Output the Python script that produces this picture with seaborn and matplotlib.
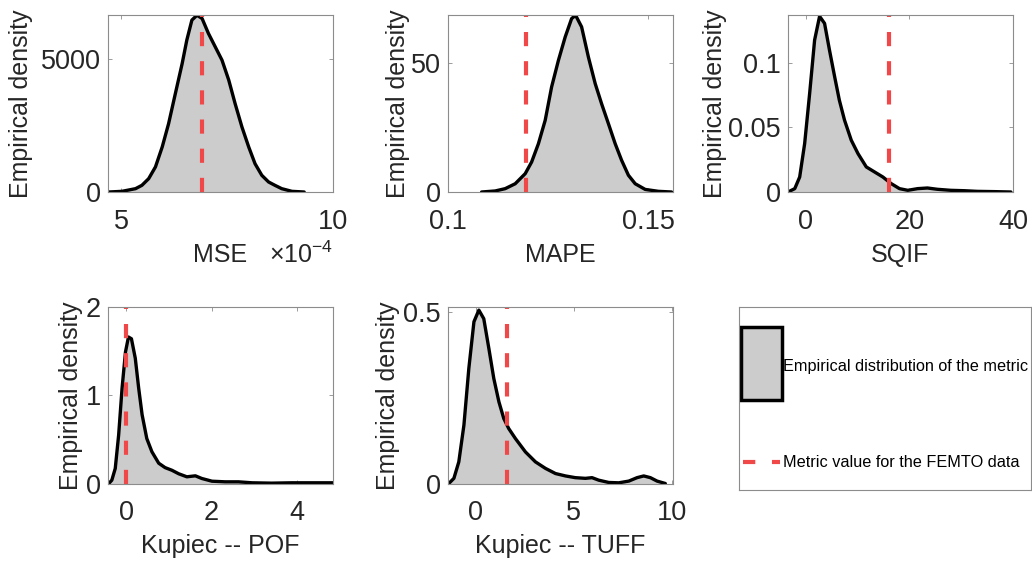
import numpy as np
import matplotlib
matplotlib.use("Agg")
import matplotlib.pyplot as plt
import seaborn as sns
from matplotlib.patches import Rectangle

# densities
mse_x = np.array([4.71, 5.02, 5.34, 5.49, 5.65, 5.81, 5.97, 6.12, 6.28, 6.44, 6.55, 6.67, 6.79,
                  6.91, 7.06, 7.22, 7.38, 7.54, 7.69, 7.85, 8.01, 8.16, 8.32, 8.48, 8.63, 8.79,
                  9.03, 9.32]) * 1e-4
mse_y = [0, 25, 125, 250, 500, 940, 1690, 2560, 3690, 4810, 5690, 6440, 6620,
         6500, 5940, 5440, 4940, 4190, 3310, 2440, 1690, 1060, 625, 375, 250, 125,
         25, 0]
mse_value = 6.9e-4

mape_x = [0.1084, 0.1118, 0.1143, 0.1168, 0.1193, 0.1209, 0.1226, 0.1243, 0.1259, 0.1276,
          0.1293, 0.1309, 0.1319, 0.1334, 0.1351, 0.1368, 0.1384, 0.1401, 0.1418, 0.1434,
          0.1451, 0.1468, 0.1493, 0.1526, 0.1559]
mape_y = [0, 0.4, 1.3, 3.2, 7.1, 11.6, 18.7, 27.8, 40.7, 51.0,
          60.1, 67.2, 68.5, 64.0, 52.3, 42.0, 34.2, 26.5, 18.7, 12.3,
          6.5, 3.2, 1.0, 0.26, 0]
mape_value = 0.1195

sqif_x = [-3.4, -2.1, -1.15, -0.19, 0.77, 1.73, 2.69, 3.65, 4.6, 5.6, 6.5, 7.5, 8.8, 10.1,
          11.7, 13.3, 14.9, 16.5, 18.1, 19.7, 21.6, 23.5, 25.4, 28.0, 30.6, 33.1, 36.3, 39.6]
sqif_y = [0, 0.0026, 0.0116, 0.0375, 0.0762, 0.1176, 0.136, 0.1305, 0.1098, 0.0891, 0.0711,
          0.0556, 0.0401, 0.0297, 0.0194, 0.0155, 0.0116, 0.0065, 0.0026, 0.0013, 0.0026,
          0.0031, 0.0021, 0.0013, 0.001, 0.0005, 0.0003, 0]
sqif_value = 16.15

pof_x = [-0.41, -0.34, -0.26, -0.18, -0.10, -0.02, 0.05, 0.12, 0.21, 0.29, 0.37, 0.48, 0.60,
         0.76, 0.91, 1.07, 1.23, 1.42, 1.62, 1.77, 2.01, 2.32, 2.63, 2.95, 3.41, 3.88, 4.35, 4.86]
pof_y = [0, 0.038, 0.17, 0.55, 1.08, 1.49, 1.66, 1.64, 1.42, 1.08, 0.78, 0.51, 0.36,
         0.23, 0.18, 0.15, 0.11, 0.076, 0.087, 0.057, 0.026, 0.019, 0.019, 0.008, 0.004,
         0.008, 0.008, 0.008]
pof_value = 0.0

tuff_x = [-1.36, -1.10, -0.85, -0.59, -0.34, -0.08, 0.17, 0.42, 0.68, 0.93, 1.19, 1.44, 1.69,
          2.03, 2.54, 3.05, 3.56, 4.07, 4.58, 5.08, 5.59, 5.93, 6.27, 6.78, 7.29, 7.8, 8.22,
          8.56, 8.9, 9.24, 9.66]
tuff_y = [0, 0.015, 0.063, 0.17, 0.335, 0.471, 0.505, 0.48, 0.393, 0.306, 0.238, 0.189, 0.160,
          0.131, 0.092, 0.063, 0.044, 0.029, 0.022, 0.017, 0.015, 0.017, 0.0097, 0.003, 0.002,
          0.007, 0.017, 0.022, 0.017, 0.007, 0]
tuff_value = 1.61

legend_labels = ["Empirical distribution of the metric", "Metric value for the FEMTO data"]

FILL = "#cccccc"
RED = "#f04848"
AXC = "#8c8c8c"
TXT = "#262626"

sns.set_theme(style="ticks")
plt.rcParams["font.family"] = ["Liberation Sans", "DejaVu Sans"]
plt.rcParams["mathtext.fontset"] = "custom"
plt.rcParams["mathtext.rm"] = "Liberation Sans"

W, H = 1032, 565
fig = plt.figure(figsize=(W / 100, H / 100), dpi=100)


def px_axes(left, top, right, bottom):
    return fig.add_axes([left / W, 1 - bottom / H, (right - left) / W, (bottom - top) / H])


def density_panel(ax, x, y, value, label, xlim, ylim, xticks, yticks, ypad):
    ax.fill_between(x, y, 0, color=FILL, linewidth=0)
    sns.lineplot(x=x, y=y, color="black", linewidth=2.4, ax=ax)
    ax.axvline(value, color=RED, linewidth=3, linestyle=(0, (3.4, 3.6)))
    ax.set_xlim(*xlim)
    ax.set_ylim(*ylim)
    ax.set_xticks(xticks)
    ax.set_yticks(yticks)
    ax.set_xlabel(label, fontsize=18, color=TXT, labelpad=6)
    ax.set_ylabel("Empirical density", fontsize=18, color=TXT, labelpad=ypad)
    ax.tick_params(direction="in", length=3, width=0.6, color=AXC, labelcolor=TXT,
                   labelsize=19.5, top=True, right=True)
    ax.tick_params(axis="x", pad=12)
    ax.tick_params(axis="y", pad=5)
    for s in ax.spines.values():
        s.set_color(AXC)
        s.set_linewidth(0.8)


ax1 = px_axes(108, 15, 333, 192)
density_panel(ax1, mse_x, mse_y, mse_value, "MSE", (4.69e-4, 10e-4), (0, 6630),
              [5e-4, 10e-4], [0, 5000], 5.8)
ax1.set_xticklabels(["5", "10"])
fig.text(333 / W, 1 - 263 / H, r"$\times\mathregular{10^{-4}}$", ha="right", va="baseline",
         fontsize=18, color=TXT)

ax2 = px_axes(448, 15, 673, 192)
density_panel(ax2, mape_x, mape_y, mape_value, "MAPE", (0.1, 0.15625), (0, 68.6),
              [0.1, 0.15], [0, 50], 0.7)
ax2.set_xticklabels(["0.1", "0.15"])

ax3 = px_axes(787.5, 15, 1013, 192)
density_panel(ax3, sqif_x, sqif_y, sqif_value, "SQIF", (-3.5, 40), (0, 0.137),
              [0, 20, 40], [0, 0.05, 0.1], 0.7)
ax3.set_yticklabels(["0", "0.05", "0.1"])

ax4 = px_axes(108, 307, 333, 483.5)
density_panel(ax4, pof_x, pof_y, pof_value, "Kupiec -- POF", (-0.43, 4.85), (0, 2),
              [0, 2, 4], [0, 1, 2], 2.2)

ax5 = px_axes(448, 307, 673, 483.5)
density_panel(ax5, tuff_x, tuff_y, tuff_value, "Kupiec -- TUFF", (-1.4, 10.05), (0, 0.514),
              [0, 5, 10], [0, 0.5], 2.2)
ax5.set_yticklabels(["0", "0.5"])

# legend box in the sixth cell, drawn by hand like the MATLAB legend
axl = px_axes(739, 307, 1031, 490)
axl.set_xlim(0, 1)
axl.set_ylim(0, 1)
axl.set_xticks([])
axl.set_yticks([])
for s in axl.spines.values():
    s.set_color(AXC)
    s.set_linewidth(0.8)
axl.add_patch(Rectangle((0.0075, 0.492), 0.139, 0.399, facecolor=FILL, edgecolor="black",
                        linewidth=2.5, transform=axl.transAxes))
axl.plot([0.0127, 0.140], [0.153, 0.153], color=RED, linewidth=3,
         linestyle=(0, (2.95, 4.0)), transform=axl.transAxes)
axl.text(0.151, 0.676, legend_labels[0], fontsize=11.7, color="black", va="center",
         transform=axl.transAxes)
axl.text(0.151, 0.150, legend_labels[1], fontsize=11.7, color="black", va="center",
         transform=axl.transAxes)

fig.savefig("out.png", dpi=100)
